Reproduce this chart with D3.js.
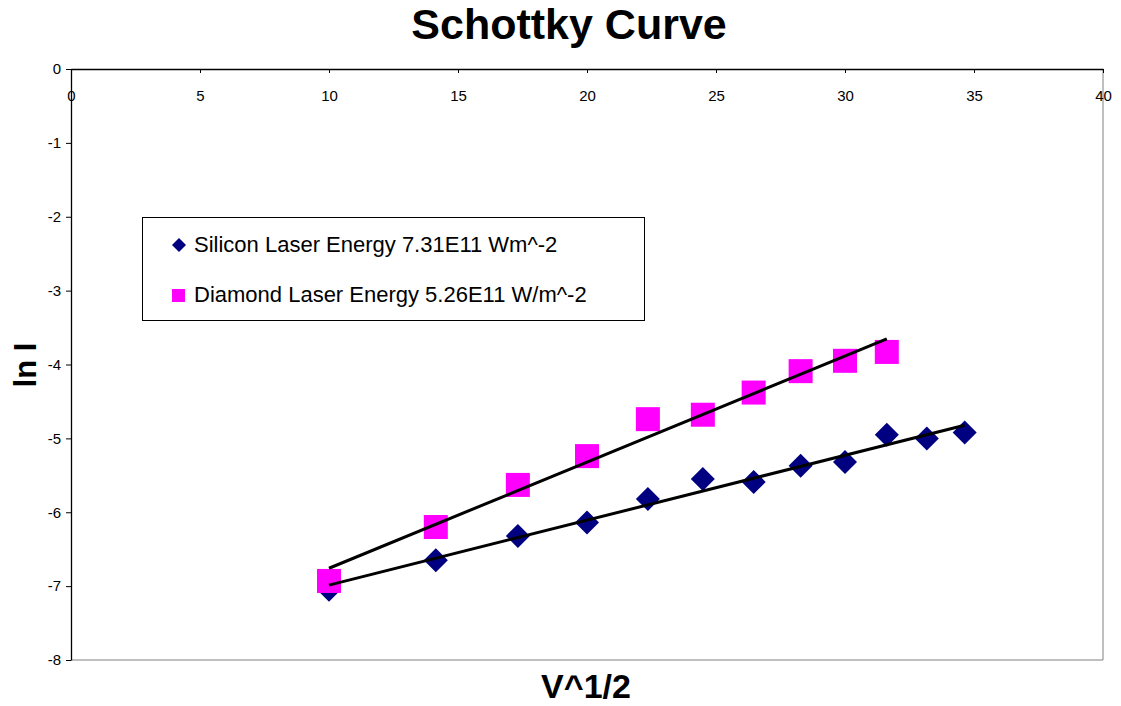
<!DOCTYPE html>
<html><head><meta charset="utf-8">
<script src="https://cdn.jsdelivr.net/npm/d3@7"></script>
<style>body{margin:0;background:#fff}svg{display:block}</style>
</head><body>
<script>
const xValues = [10, 14.14, 17.32, 20, 22.36, 24.49, 26.46, 28.28, 30, 31.62, 33.17, 34.64];
const siliconY = [-7.05, -6.65, -6.32, -6.14, -5.82, -5.55, -5.59, -5.37, -5.32, -4.95, -5.00, -4.92];
const diamondY = [-6.93, -6.20, -5.63, -5.24, -4.74, -4.68, -4.38, -4.09, -3.95, -3.83];
const xTicks = [0, 5, 10, 15, 20, 25, 30, 35, 40];
const yTicks = [0, -1, -2, -3, -4, -5, -6, -7, -8];
const seriesNames = ["Silicon Laser Energy 7.31E11 Wm^-2", "Diamond Laser Energy 5.26E11 W/m^-2"];

const W = 1121, H = 706;
const L = 71, R = 1103, T = 69, B = 660;
const FONT = "'Liberation Sans', Arial, sans-serif";
const svg = d3.select("body").append("svg").attr("width", W).attr("height", H)
  .style("font-family", FONT);

const x = d3.scaleLinear().domain([0, 40]).range([L, R]);
const y = d3.scaleLinear().domain([-8, 0]).range([B, T]);

// plot border (gray right & bottom)
svg.append("line").attr("x1", R).attr("x2", R).attr("y1", T).attr("y2", B).attr("stroke", "#808080");
svg.append("line").attr("x1", L).attr("x2", R).attr("y1", B).attr("y2", B).attr("stroke", "#808080");

const fmt = d => String(d);

// x axis at top (y = 0)
const xAxis = svg.append("g").attr("transform", `translate(0,${y(0)})`)
  .call(d3.axisBottom(x).tickValues(xTicks).tickSize(4).tickSizeOuter(0).tickFormat(fmt));
xAxis.select(".domain").attr("stroke", "#000").attr("stroke-width", 1.3);
xAxis.selectAll(".tick line").attr("stroke", "#000");
xAxis.selectAll("text").attr("font-size", 15).attr("fill", "#000").attr("font-family", FONT)
  .attr("y", 32).attr("dy", 0);

const yAxis = svg.append("g").attr("transform", `translate(${L},0)`)
  .call(d3.axisLeft(y).tickValues(yTicks).tickSize(5).tickPadding(5).tickSizeOuter(0).tickFormat(fmt));
yAxis.select(".domain").attr("stroke", "#000").attr("stroke-width", 1.3);
yAxis.selectAll(".tick line").attr("stroke", "#000");
yAxis.selectAll("text").attr("font-size", 15).attr("fill", "#000").attr("font-family", FONT);

// linear trendlines (least squares of each series)
function fit(xs, ys) {
  const n = ys.length;
  const xx = xs.slice(0, n);
  const mx = d3.mean(xx), my = d3.mean(ys);
  let sxy = 0, sxx = 0;
  for (let i = 0; i < n; i++) { sxy += (xx[i]-mx)*(ys[i]-my); sxx += (xx[i]-mx)**2; }
  const m = sxy / sxx, b = my - m*mx;
  return [[xx[0], m*xx[0]+b], [xx[n-1], m*xx[n-1]+b]];
}

const silData = xValues.map((v, i) => [v, siliconY[i]]);
const diaData = diamondY.map((v, i) => [xValues[i], v]);

svg.append("g").selectAll("path").data(silData).join("path")
  .attr("d", d3.symbol(d3.symbolSquare, 24*24/2)())
  .attr("transform", d => `translate(${x(d[0])},${y(d[1])}) rotate(45)`)
  .attr("fill", "#000080");

svg.append("g").selectAll("rect").data(diaData).join("rect")
  .attr("x", d => x(d[0]) - 12).attr("y", d => y(d[1]) - 12)
  .attr("width", 24).attr("height", 24).attr("fill", "#FF00FF");

const line = d3.line().x(d => x(d[0])).y(d => y(d[1]));
[fit(xValues, siliconY), fit(xValues, diamondY)].forEach(seg => {
  svg.append("path").attr("d", line(seg)).attr("stroke", "#000").attr("stroke-width", 3).attr("fill", "none");
});

// title & axis labels
svg.append("text").attr("x", 569).attr("y", 39).attr("text-anchor", "middle")
  .attr("font-size", 43).attr("font-weight", "bold").text("Schottky Curve");
svg.append("text").attr("x", 586).attr("y", 698).attr("text-anchor", "middle")
  .attr("font-size", 34).attr("font-weight", "bold").text("V^1/2");
svg.append("text").attr("transform", "translate(36,365) rotate(-90)").attr("text-anchor", "middle")
  .attr("font-size", 31).attr("font-weight", "bold").text("ln I");

// legend
const lg = svg.append("g");
lg.append("rect").attr("x", 142.5).attr("y", 217.5).attr("width", 502).attr("height", 103)
  .attr("fill", "#fff").attr("stroke", "#000");
lg.append("path").attr("d", d3.symbol(d3.symbolSquare, 14*14/2)())
  .attr("transform", "translate(179,245) rotate(45)").attr("fill", "#000080");
lg.append("rect").attr("x", 172).attr("y", 289).attr("width", 13).attr("height", 13).attr("fill", "#FF00FF");
lg.selectAll("text.lt").data(seriesNames).join("text").attr("class", "lt")
  .attr("x", 194).attr("y", (d, i) => 252 + i*50).attr("font-size", 22).text(d => d);
</script>
</body></html>
